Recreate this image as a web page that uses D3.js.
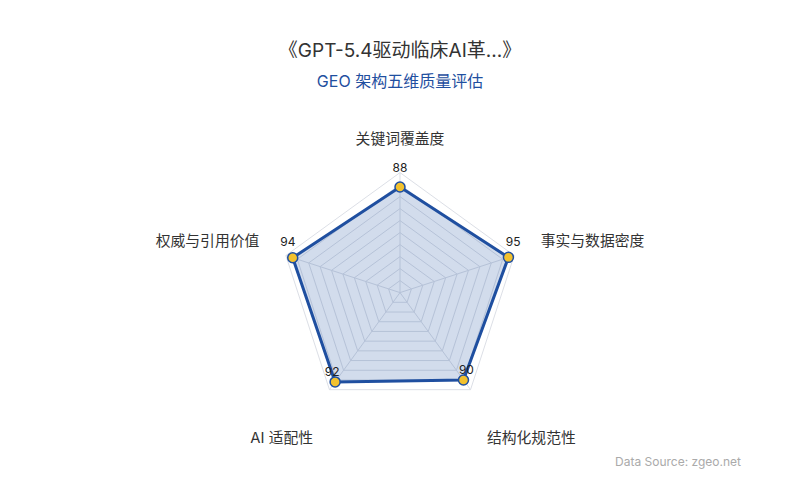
<!DOCTYPE html>
<html>
<head>
<meta charset="utf-8">
<title>GEO radar</title>
<script src="https://cdn.jsdelivr.net/npm/d3@7"></script>
<style>
  html, body { margin: 0; padding: 0; background: #fff; }
  svg text { font-family: Inter, "Noto Sans CJK SC", sans-serif; }
</style>
</head>
<body>
<div id="chart"></div>
<script>
var categories = ["关键词覆盖度", "事实与数据密度", "结构化规范性", "AI 适配性", "权威与引用价值"];
var scores = [88, 95, 90, 92, 94];
var levels = [10, 20, 30, 40, 50, 60, 70, 80, 90, 100];

var w = 800, h = 500,
    cx = 400, cy = 292.6,
    R = 120;

var svg = d3.select("#chart").append("svg").attr("width", w).attr("height", h);

var r = d3.scaleLinear().domain([0, 100]).range([0, R]);
var angle = d3.scalePoint().domain(categories.concat(["_end"])).range([0, 2 * Math.PI]);

function pt(cat, v) {
  var a = angle(cat);
  return [cx + r(v) * Math.sin(a), cy - r(v) * Math.cos(a)];
}

// grid rings
var g = svg.append("g");
g.selectAll("polygon.ring")
  .data(levels)
  .enter()
  .append("polygon")
  .attr("class", "ring")
  .attr("points", function(l) { return categories.map(function(c) { return pt(c, l).join(","); }).join(" "); })
  .attr("fill", "none")
  .attr("stroke", "#dcdfe6")
  .attr("stroke-width", 1);

// spokes
g.selectAll("line.spoke")
  .data(categories)
  .enter()
  .append("line")
  .attr("x1", cx).attr("y1", cy)
  .attr("x2", function(c) { return pt(c, 100)[0]; })
  .attr("y2", function(c) { return pt(c, 100)[1]; })
  .attr("stroke", "#dcdfe6")
  .attr("stroke-width", 1);

// data area
var line = d3.line().curve(d3.curveLinearClosed);
svg.append("path")
  .datum(categories.map(function(c, i) { return pt(c, scores[i]); }))
  .attr("d", line)
  .attr("fill", "rgba(30, 80, 160, 0.2)")
  .attr("stroke", "#1f4fa0")
  .attr("stroke-width", 3)
  .attr("stroke-linejoin", "round");

// points
svg.selectAll("circle.pt")
  .data(categories)
  .enter()
  .append("circle")
  .attr("cx", function(c, i) { return pt(c, scores[i])[0]; })
  .attr("cy", function(c, i) { return pt(c, scores[i])[1]; })
  .attr("r", 5)
  .attr("fill", "#f2c12e")
  .attr("stroke", "#1f4fa0")
  .attr("stroke-width", 1.5);

// value labels
svg.selectAll("text.val")
  .data(categories)
  .enter()
  .append("text")
  .text(function(c, i) { return scores[i]; })
  .attr("x", function(c, i) { return pt(c, scores[i])[0] + 5 * Math.sin(angle(c)); })
  .attr("y", function(c, i) { return pt(c, scores[i])[1] - 5 * Math.cos(angle(c)) - 10; })
  .attr("text-anchor", "middle")
  .attr("font-size", "12px")
  .attr("fill", "#222");

// category labels
svg.selectAll("text.cat")
  .data(categories)
  .enter()
  .append("text")
  .text(function(c) { return c; })
  .attr("x", function(c) { return pt(c, 123.3)[0]; })
  .attr("y", function(c) {
    var a = angle(c), y = pt(c, 123.3)[1];
    if (Math.abs(a) < 0.01) return y - 1;
    if (Math.cos(a) > 0) return y - 1;
    return y + 31;
  })
  .attr("text-anchor", function(c) {
    var s = Math.sin(angle(c));
    return Math.abs(s) < 0.1 ? "middle" : (s > 0 ? "start" : "end");
  })
  .attr("font-size", "14.8px")
  .attr("fill", "#333");

// titles
svg.append("text")
  .text("《GPT-5.4驱动临床AI革...》")
  .attr("x", 400).attr("y", 57)
  .attr("text-anchor", "middle")
  .attr("font-size", "19px")
  .attr("fill", "#333");

svg.append("text")
  .text("GEO 架构五维质量评估")
  .attr("x", 400).attr("y", 87)
  .attr("text-anchor", "middle")
  .attr("font-size", "16px")
  .attr("fill", "#1f4fa0");

svg.append("text")
  .text("Data Source: zgeo.net")
  .attr("x", 741).attr("y", 466)
  .attr("text-anchor", "end")
  .attr("font-size", "12px")
  .attr("fill", "#aaa");
</script>
</body>
</html>
